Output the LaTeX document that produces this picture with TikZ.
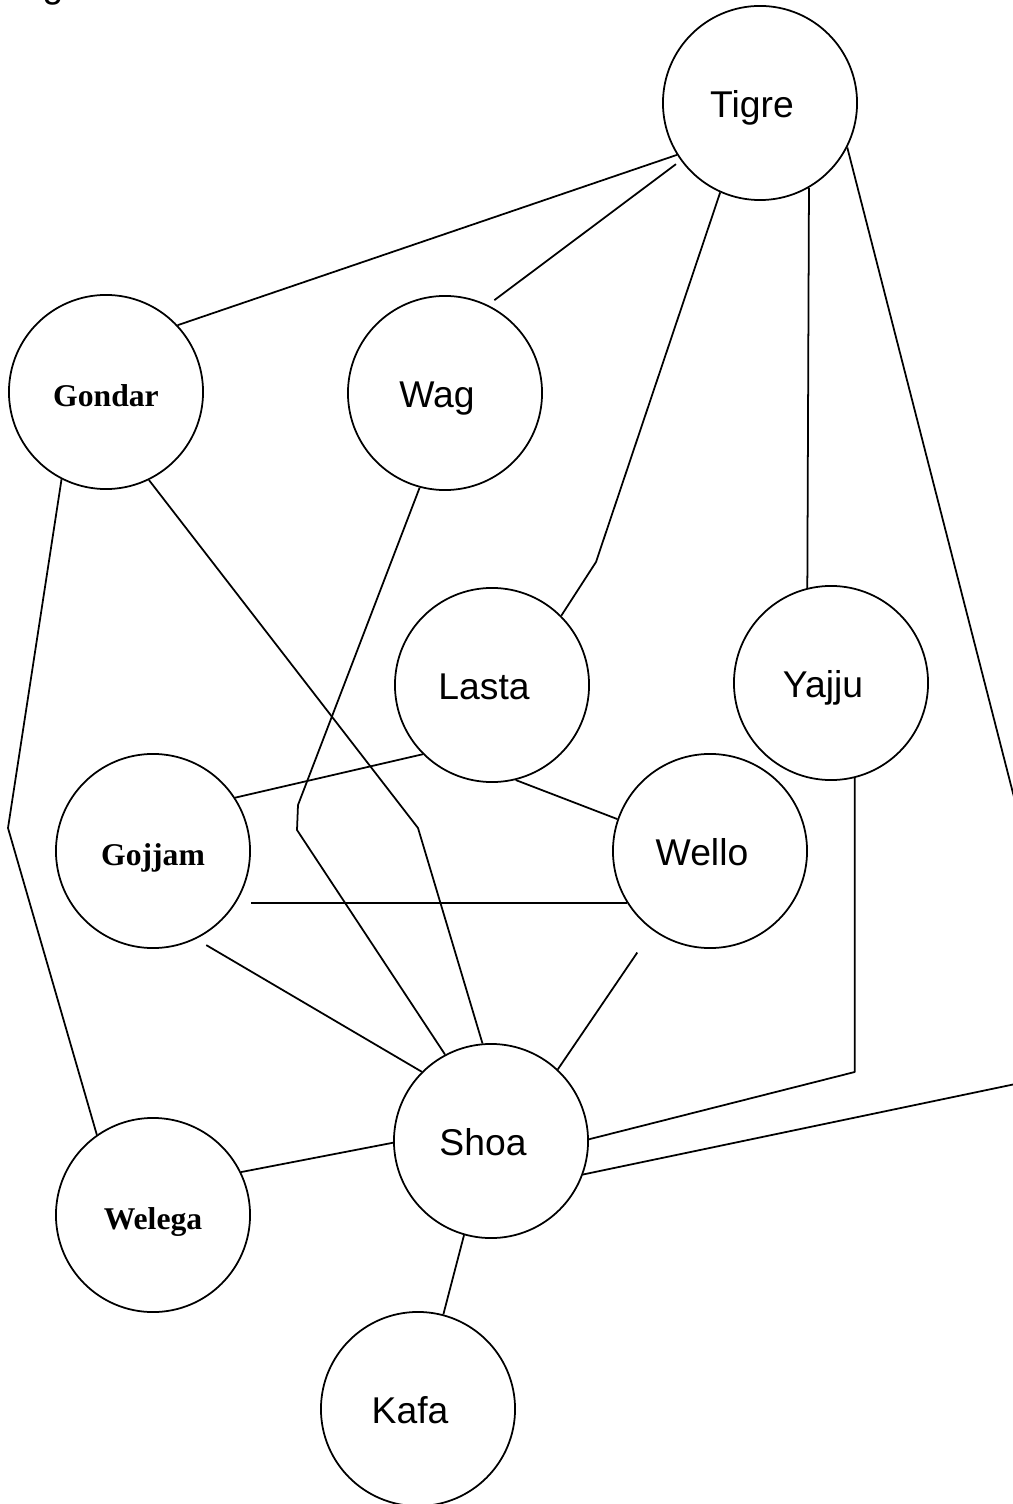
\documentclass[tikz,border=0pt]{standalone}
\usepackage{fontspec}
\setmainfont{Liberation Sans}
\newfontfamily\timesbold{Liberation Serif}[BoldFont={Liberation Serif Bold}]
\tikzset{
  province/.style={draw, circle, line width=0.5pt, minimum size=1.94cm, inner sep=0pt,
    text height=10pt, text depth=1.6pt},
  region/.style={province, font=\fontsize{10.6}{12}\selectfont,
    execute at end node={\hspace{0.16cm}}},
  oldregion/.style={province, font=\timesbold\bfseries\fontsize{9}{11}\selectfont},
  border/.style={line width=0.5pt, line join=round}
}
\begin{document}
\begin{tikzpicture}[x=0.01cm, y=-0.01cm]
\useasboundingbox (0,0) rectangle (1013,1504);
% fragment of a caption cut off at the top
\node[anchor=base, inner sep=0pt, font=\fontsize{10.6}{12}\selectfont] (capFrag) at (53,-2) {g};
% provinces
\node[region] (Tigre) at (760,103) {Tigre};
\node[oldregion] (Gondar) at (106,392) {Gondar};
\node[region] (Wag) at (445,393) {Wag};
\node[region] (Lasta) at (492,685) {Lasta};
\node[region] (Yajju) at (831,683) {Yajju};
\node[oldregion] (Gojjam) at (153,851) {Gojjam};
\node[region] (Wello) at (710,851) {Wello};
\node[region] (Shoa) at (491,1141) {Shoa};
\node[oldregion] (Welega) at (153,1215) {Welega};
\node[region] (Kafa) at (418,1409) {Kafa};
% bend points
\coordinate (lastaBend) at (596,562);
\coordinate (tigreBendA) at (1025,840);
\coordinate (tigreBendB) at (1025,1082);
\coordinate (gondarBend) at (8,828);
\coordinate (shoaBend) at (418,828);
\coordinate (wagBendA) at (298,805);
\coordinate (wagBendB) at (297,830);
\coordinate (yajjuBend) at (855,1072);
% borders
\draw[border] (Tigre.212) -- (Gondar.43);
\draw[border, shorten <=0.06cm, shorten >=0.08cm] (Tigre.216) -- (Wag.64);
\draw[border] (Tigre.246) -- (lastaBend) -- (Lasta.45);
\draw[border] (Tigre.300) -- (Yajju.104);
\draw[border] (Tigre.333) -- (tigreBendA) -- (tigreBendB) -- (Shoa.340);
\draw[border] (Gondar.243) -- (gondarBend) -- (Welega.125);
\draw[border] (Gondar.296) -- (shoaBend) -- (Shoa.95);
\draw[border] (Wag.255) -- (wagBendA) -- (wagBendB) -- (Shoa.118);
\draw[border] (Lasta.225) -- (Gojjam.33);
\draw[border] (Lasta.284) -- (Wello.161);
\draw[border, shorten <=0.15cm] (Gojjam.-32) -- (Wello.212);
\draw[border, shorten <=0.12cm] (Gojjam.296) -- (Shoa.135);
\draw[border, shorten <=0.27cm] (Wello.234) -- (Shoa.47);
\draw[border] (Yajju.284) -- (Yajju.284 |- yajjuBend) -- (Shoa.1);
\draw[border] (Shoa.181) -- (Welega.26);
\draw[border] (Shoa.254) -- (Kafa.75);
\end{tikzpicture}
\end{document}
